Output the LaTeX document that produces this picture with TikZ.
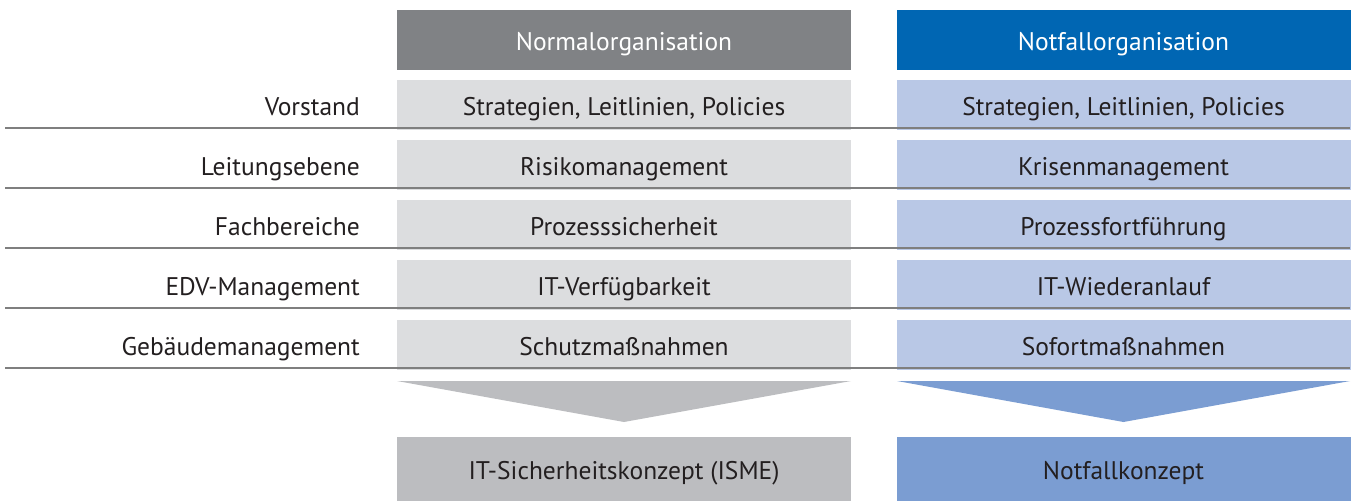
\documentclass[tikz,border=0pt]{standalone}
\usepackage{fontspec}
\setmainfont{PT Sans}
\definecolor{hdgrey}{HTML}{808285}
\definecolor{hdblue}{HTML}{0066B3}
\definecolor{rowgrey}{HTML}{DCDDDF}
\definecolor{rowblue}{HTML}{B9C8E6}
\definecolor{bgrey}{HTML}{BCBDC0}
\definecolor{bblue}{HTML}{7B9DD2}
\definecolor{txt}{HTML}{231F20}
\definecolor{sep}{HTML}{7F7F7F}
\begin{document}
\begin{tikzpicture}[x=1pt,y=-1pt,
  every node/.style={inner sep=0pt, font=\fontsize{25.5}{30}\selectfont, text=txt, text height=21pt, text depth=0pt},
  hdbox/.style={minimum width=454pt, minimum height=60pt, text=white},
  rowbox/.style={minimum width=454pt, minimum height=50pt},
  botbox/.style={minimum width=454pt, minimum height=64pt},
  lbl/.style={anchor=east},
  sepline/.style={draw=sep, line width=1.3pt}]
\useasboundingbox (0,0) rectangle (1353,501);
% headers
\node[hdbox, fill=hdgrey] (hn) at (624,40) {Normalorganisation};
\node[hdbox, fill=hdblue] (hf) at (1123.5,40) {Notfallorganisation};
% rows
\node[rowbox, fill=rowgrey] (n1) at (624,105) {Strategien, Leitlinien, Policies};
\node[rowbox, fill=rowgrey] (n2) at (624,165) {Risikomanagement};
\node[rowbox, fill=rowgrey] (n3) at (624,225) {Prozesssicherheit};
\node[rowbox, fill=rowgrey] (n4) at (624,285) {IT-Verfügbarkeit};
\node[rowbox, fill=rowgrey] (n5) at (624,345) {Schutzmaßnahmen};
\node[rowbox, fill=rowblue] (f1) at (1123.5,105) {Strategien, Leitlinien, Policies};
\node[rowbox, fill=rowblue] (f2) at (1123.5,165) {Krisenmanagement};
\node[rowbox, fill=rowblue] (f3) at (1123.5,225) {Prozessfortführung};
\node[rowbox, fill=rowblue] (f4) at (1123.5,285) {IT-Wiederanlauf};
\node[rowbox, fill=rowblue] (f5) at (1123.5,345) {Sofortmaßnahmen};
% labels
\node[lbl] (l1) at (360,105) {Vorstand};
\node[lbl] (l2) at (360,165) {Leitungsebene};
\node[lbl] (l3) at (360,225) {Fachbereiche};
\node[lbl] (l4) at (360,285) {EDV-Management};
\node[lbl] (l5) at (360,345) {Gebäudemanagement};
% separator lines
\foreach \y in {128,188,248,308,368} {
  \draw[sepline] (5,\y) -- (1350,\y);
}
% funnels
\fill[bgrey] (397,381) -- (851,381) -- (624,422) -- cycle;
\fill[bblue] (897,381) -- (1350,381) -- (1123.5,422) -- cycle;
% bottom boxes
\node[botbox, fill=bgrey] (bn) at (624,469) {IT-Sicherheitskonzept (ISME)};
\node[botbox, fill=bblue] (bf) at (1123.5,469) {Notfallkonzept};
\end{tikzpicture}
\end{document}
